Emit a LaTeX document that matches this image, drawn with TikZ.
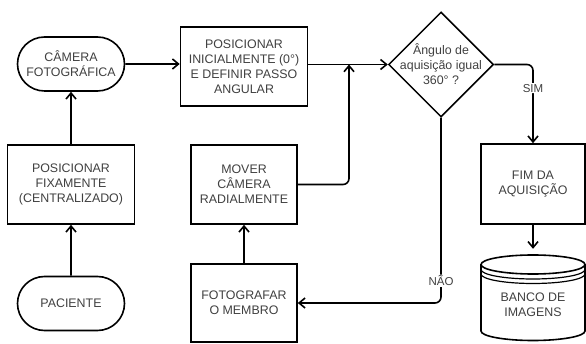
\documentclass[tikz,border=0pt]{standalone}
\usepackage{fontspec}
\setmainfont{Liberation Sans}
\usetikzlibrary{shapes.geometric,shapes.misc,arrows.meta}

\begin{document}
\begin{tikzpicture}[x=1pt,y=1pt,yscale=-1,xscale=1,
  every node/.style={font=\fontsize{12.4}{15}\selectfont, text=black!75, align=center},
  term/.style={rounded rectangle, draw=black, line width=1.6pt, minimum width=107pt, minimum height=54pt, inner sep=0pt},
  proc/.style={rectangle, draw=black, line width=1.6pt, minimum height=79pt, inner sep=0pt},
  decision/.style={diamond, draw=black, line width=1.5pt, minimum width=105pt, minimum height=105pt, inner sep=0pt},
  flow/.style={line width=1.6pt, -{Straight Barb[length=6pt,width=10pt]}, rounded corners=6pt},
  tag/.style={fill=white, inner sep=1pt, font=\fontsize{11.5}{13}\selectfont}]
\path[use as bounding box] (0,0) rectangle (586,344);

% left column
\node[term] (camera) at (71,64) {CÂMERA\\FOTOGRÁFICA};
\node[proc, minimum width=127pt] (posfix) at (71,184.5) {POSICIONAR\\FIXAMENTE\\(CENTRALIZADO)};
\node[term] (paciente) at (71,303.5) {PACIENTE};

% middle column
\node[proc, minimum width=127pt] (posini) at (244,66.5) {POSICIONAR\\INICIALMENTE (0°)\\E DEFINIR PASSO\\ANGULAR};
\node[proc, minimum width=106pt] (mover) at (244,184.5) {MOVER\\CÂMERA\\RADIALMENTE};
\node[proc, minimum width=106pt, minimum height=78pt] (foto) at (244,303) {FOTOGRAFAR\\O MEMBRO};

% decision and end
\node[decision, label={center:Ângulo de\\aquisição igual\\360° ?}] (dec) at (441,64.5) {};
\node[proc, minimum width=104pt, minimum height=80pt] (fim) at (533,184) {FIM DA\\AQUISIÇÃO};
\node[minimum width=104pt, minimum height=100pt, inner sep=0pt] (banco) at (533,305) {BANCO DE\\IMAGENS};

% database cylinder
\draw[line width=1.6pt] (481,264.5) -- (481,331)
  arc[start angle=180, end angle=0, x radius=52, y radius=9.5] -- (585,264.5)
  arc[start angle=0, end angle=-180, x radius=52, y radius=9.5]
  arc[start angle=180, end angle=0, x radius=52, y radius=9.5];
\draw[line width=1.2pt] (481,269.5) arc[start angle=180, end angle=0, x radius=52, y radius=9.5];
\draw[line width=1.2pt] (481,274) arc[start angle=180, end angle=0, x radius=52, y radius=9.5];

\coordinate (join) at (349,64.5);

% connectors
\draw[flow] (paciente) -- (posfix);
\draw[flow] (posfix) -- (camera);
\draw[flow] (camera) -- (camera -| posini.west);
\draw[flow] (posini.east |- dec.west) -- (dec.west);
\draw[flow] (foto) -- (mover);
\draw[flow] (mover.east) -| (join);
\draw[flow] (dec.east) -| node[tag, pos=0.65] {SIM} (fim.north);
\draw[flow] (dec.south) |- node[tag, pos=0.44] {NÃO} (foto.east);
\draw[flow] (fim) -- ([yshift=-6pt]banco.north);
\end{tikzpicture}
\end{document}
